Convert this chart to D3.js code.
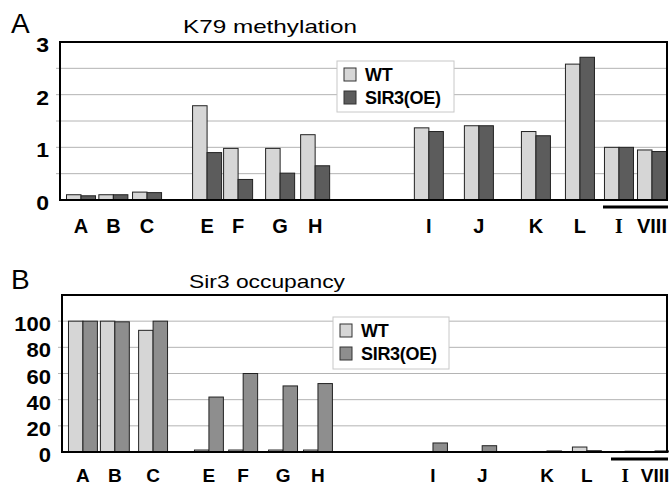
<!DOCTYPE html>
<html>
<head>
<meta charset="utf-8">
<script src="https://cdn.jsdelivr.net/npm/d3@7"></script>
<style>
  body { margin: 0; background: #fff; }
  svg { display: block; font-family: "Liberation Sans", Arial, sans-serif; }
</style>
</head>
<body>
<svg id="fig" width="669" height="487"></svg>
<script>
// x labels (last pair is the chromosome I / VIII controls)
const labels = ['A', 'B', 'C', 'E', 'F', 'G', 'H', 'I', 'J', 'K', 'L', 'I', 'VIII'];
// category slot positions (slot units)
const slotsA = [0.63, 1.60, 2.61, 4.41, 5.34, 6.60, 7.65, 11.06, 12.56, 14.27, 15.59, 16.76, 17.75];
const slotsB = [0.63, 1.59, 2.74, 4.42, 5.45, 6.65, 7.70, 11.16, 12.64, 14.59, 15.79, 16.94, 17.84];

// panel A: K79 methylation
const k79WT  = [0.10, 0.10, 0.15, 1.79, 0.98, 0.98, 1.24, 1.37, 1.41, 1.30, 2.58, 1.00, 0.95];
const k79OE  = [0.08, 0.10, 0.14, 0.90, 0.39, 0.51, 0.65, 1.30, 1.41, 1.22, 2.71, 1.00, 0.92];
// panel B: Sir3 occupancy
const sirWT  = [100, 100, 93, 1.5, 1.5, 1.5, 1.5, 0, 0, 0.4, 3.8, 0.3, 0.3];
const sirOE  = [100, 99.5, 100, 42, 60, 50.5, 52.3, 6.9, 4.8, 0.8, 1.0, 0.6, 0.8];

const ticksA = [0, 1, 2, 3];
const gridA = [0.5, 1, 1.5, 2, 2.5];
const ticksB = [0, 20, 40, 60, 80, 100];
const gridB = [20, 40, 60, 80, 100];

const SLOT_MAX = 18.2;
const BAR_W = 0.435;

const svg = d3.select('#fig');

function panel(cfg) {
  const { left, right, top, bottom, yMax, wt, oe, slots, oeColor, ticks, grid,
          letter, letterY, title, titleX, titleY, titleLen, tickStretch,
          labelDy, labelSize, legend, underlineX } = cfg;
  const x = d3.scaleLinear().domain([0, SLOT_MAX]).range([left, right]);
  const y = d3.scaleLinear().domain([0, yMax]).range([bottom, top]);
  const g = svg.append('g');
  const bw = x(BAR_W) - x(0);

  // gridlines
  g.selectAll('line.grid').data(grid).join('line')
    .attr('x1', left - 4).attr('x2', right)
    .attr('y1', d => y(d)).attr('y2', d => y(d))
    .attr('stroke', '#b4b4b4').attr('stroke-width', 1);

  // bars
  const rows = labels.map((l, i) => ({ i, wt: wt[i], oe: oe[i], s: slots[i] }));
  g.selectAll('rect.wt').data(rows).join('rect')
    .attr('x', d => x(d.s) - bw).attr('y', d => y(d.wt))
    .attr('width', bw).attr('height', d => y(0) - y(d.wt))
    .attr('fill', '#d6d6d6').attr('stroke', '#222').attr('stroke-width', 1);
  g.selectAll('rect.oe').data(rows).join('rect')
    .attr('x', d => x(d.s)).attr('y', d => y(d.oe))
    .attr('width', bw).attr('height', d => y(0) - y(d.oe))
    .attr('fill', oeColor).attr('stroke', '#222').attr('stroke-width', 1);

  // frame
  g.append('rect')
    .attr('x', left).attr('y', top)
    .attr('width', right - left).attr('height', bottom - top)
    .attr('fill', 'none').attr('stroke', '#000').attr('stroke-width', 2);

  // y tick labels (slightly stretched like the scanned figure)
  g.selectAll('text.yt').data(ticks).join('text')
    .attr('transform', d => `translate(${left - 11},${y(d) + 10}) scale(${tickStretch},1)`)
    .attr('text-anchor', 'end')
    .attr('font-size', 20).attr('font-weight', 'bold')
    .text(d => d);

  // x labels
  g.selectAll('text.xl').data(rows).join('text')
    .attr('x', d => x(d.s)).attr('y', bottom + labelDy)
    .attr('text-anchor', 'middle')
    .attr('font-size', labelSize).attr('font-weight', 'bold')
    .attr('font-family', d => d.i === 11 ? '"Liberation Serif", "Times New Roman", serif' : null)
    .text(d => labels[d.i]);

  // underline under the chromosome controls
  g.append('line')
    .attr('x1', underlineX).attr('x2', right + 1)
    .attr('y1', bottom + 7).attr('y2', bottom + 7)
    .attr('stroke', '#000').attr('stroke-width', 3);

  // panel letter and title
  svg.append('text').attr('x', 11).attr('y', letterY)
    .attr('font-size', 28).text(letter);
  svg.append('text').attr('x', titleX).attr('y', titleY)
    .attr('font-size', 19)
    .attr('textLength', titleLen).attr('lengthAdjust', 'spacingAndGlyphs')
    .text(title);

  // legend
  const lg = g.append('g').attr('transform', `translate(${legend.x},${legend.y})`);
  lg.append('rect').attr('width', legend.w).attr('height', legend.h)
    .attr('fill', '#fff').attr('stroke', '#c8c8c8');
  [['WT', '#d6d6d6'], ['SIR3(OE)', oeColor]].forEach(([name, col], k) => {
    const yy = 13 + k * 23;
    lg.append('rect').attr('x', 7).attr('y', yy - 6).attr('width', 12).attr('height', 13)
      .attr('fill', col).attr('stroke', '#333');
    lg.append('text').attr('x', 28).attr('y', yy + 7)
      .attr('font-size', 18).attr('font-weight', 'bold')
      .attr('letter-spacing', -0.3)
      .text(name);
  });
}

panel({
  left: 60, right: 667, top: 42, bottom: 200, yMax: 3,
  wt: k79WT, oe: k79OE, slots: slotsA, oeColor: '#5c5c5c',
  ticks: ticksA, grid: gridA, tickStretch: 1.15, labelDy: 33, labelSize: 20,
  letter: 'A', letterY: 33, title: 'K79 methylation', titleX: 183, titleY: 33, titleLen: 174,
  legend: { x: 337, y: 61, w: 117, h: 51 }, underlineX: 603
});

panel({
  left: 62, right: 667, top: 295, bottom: 452, yMax: 120,
  wt: sirWT, oe: sirOE, slots: slotsB, oeColor: '#8e8e8e',
  ticks: ticksB, grid: gridB, tickStretch: 1.1, labelDy: 30, labelSize: 19,
  letter: 'B', letterY: 289, title: 'Sir3 occupancy', titleX: 189, titleY: 288, titleLen: 156,
  legend: { x: 333, y: 317, w: 116, h: 52 }, underlineX: 611
});
</script>
</body>
</html>
